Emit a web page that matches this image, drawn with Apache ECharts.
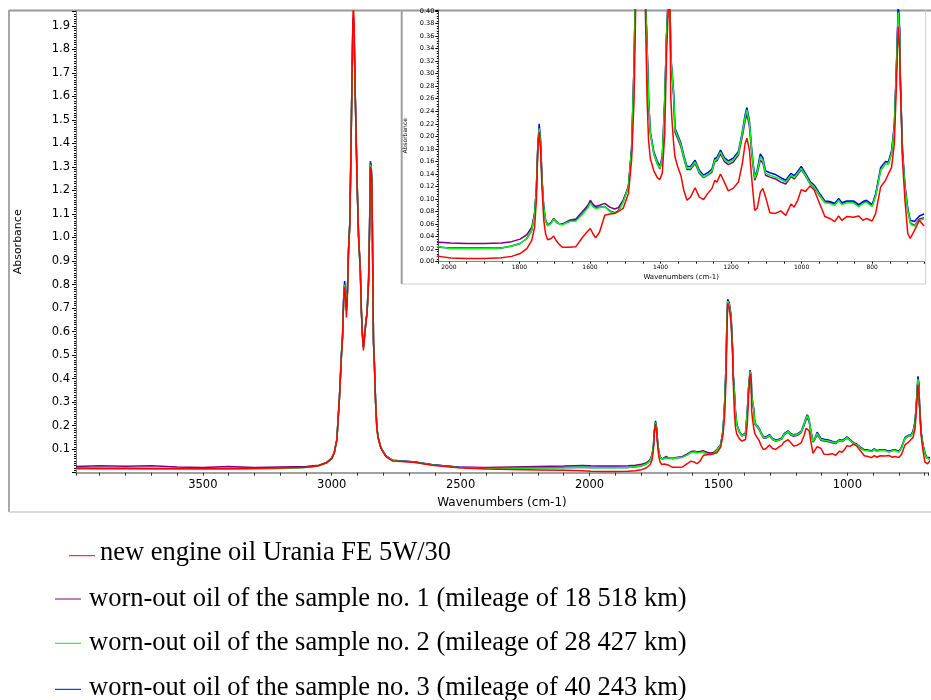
<!DOCTYPE html>
<html><head><meta charset="utf-8">
<script src="https://cdn.jsdelivr.net/npm/echarts@6/dist/echarts.min.js"></script>
<style>html,body{margin:0;padding:0;background:#fff}#c{width:931px;height:700px}</style>
</head><body><div id="c"></div>
<script>
// ---------- DATA ----------
const wavenumbers = [
3992,3900,3800,3700,3600,3500,3400,3300,3200,3100,
3050,3020,3000,2990,2980,2970,2962,2958,2954,2950,
2946,2943,2939,2935,2930,2926,2922,2918,2916,2913,
2909,2904,2900,2896,2893,2889,2885,2881,2877,2871,
2867,2863,2857,2853,2850,2847,2844,2841,2838,2834,
2830,2825,2820,2809,2790,2765,2730,2700,2676,2610,
2507,2400,2300,2200,2100,
2027,1995,1950,1899,1851,1822,1798,1779,1765,1757,
1752,1748,1744,1740,1736,1731,1726,1720,1717,1710,
1703,1695,1688,1678,1659,1640,1621,1606,1599,1592,
1584,1573,1558,1544,1530,1520,1506,1491,1482,1475,
1470,1468,1464,1458,1451,1445,1443,1438,1434,1429,
1419,1409,1402,1395,1388,1383,1377,1373,1371,1368,
1363,1359,1351,1342,1334,1325,1315,1302,1290,1278,
1266,1254,1246,1240,1230,1219,1208,1194,1179,1168,
1160,1155,1148,1141,1133,1126,1117,1110,1102,1090,
1074,1059,1045,1030,1021,1011,1001,989,976,964,
949,934,920,906,895,886,872,853,838,826,
816,800,790,776,762,754,745,737,731,726,
722,720,714,707,699,692,689,680,666,653];

const newOil = [
0.020,0.019,0.019,0.018,0.018,0.018,0.018,0.019,0.020,0.023,
0.030,0.042,0.060,0.085,0.140,0.320,0.506,0.577,0.726,0.790,
0.740,0.660,0.760,0.938,1.051,1.320,1.617,1.928,2.000,1.900,
1.617,1.355,1.164,1.008,0.938,0.853,0.683,0.584,0.520,0.598,
0.641,0.676,0.811,1.051,1.300,1.290,1.221,0.881,0.556,0.443,
0.301,0.188,0.146,0.103,0.068,0.050,0.048,0.046,0.043,0.032,
0.021,0.016,0.014,0.012,0.010,
0.0085,0.006,0.005,0.005,0.0064,0.0085,0.013,0.021,0.034,0.055,
0.098,0.178,0.207,0.178,0.119,0.066,0.045,0.035,0.034,0.037,
0.041,0.033,0.028,0.023,0.023,0.024,0.039,0.049,0.053,0.045,
0.038,0.047,0.074,0.076,0.077,0.080,0.085,0.109,0.162,0.258,
0.42,0.55,0.72,0.70,0.64,0.50,0.40,0.258,0.194,0.165,
0.145,0.134,0.131,0.141,0.205,0.33,0.42,0.40,0.263,0.23,
0.19,0.167,0.151,0.137,0.114,0.098,0.103,0.118,0.103,0.099,
0.109,0.117,0.130,0.127,0.140,0.127,0.113,0.117,0.127,0.157,
0.189,0.197,0.178,0.130,0.082,0.085,0.111,0.117,0.103,0.078,
0.077,0.081,0.074,0.092,0.087,0.098,0.115,0.112,0.121,0.114,
0.093,0.072,0.069,0.064,0.073,0.066,0.072,0.071,0.073,0.066,
0.069,0.065,0.077,0.119,0.130,0.140,0.150,0.189,0.285,0.375,
0.34,0.285,0.162,0.098,0.045,0.037,0.038,0.050,0.066,0.057];

const sample1 = [
0.026,0.030,0.027,0.030,0.024,0.022,0.026,0.022,0.024,0.026,
0.032,0.044,0.062,0.087,0.142,0.325,0.510,0.580,0.730,0.800,
0.760,0.690,0.770,0.940,1.060,1.325,1.630,1.900,1.925,1.850,
1.620,1.360,1.170,1.010,0.945,0.860,0.690,0.590,0.535,0.600,
0.650,0.680,0.820,1.060,1.325,1.310,1.230,0.890,0.560,0.450,
0.305,0.192,0.150,0.106,0.071,0.053,0.050,0.048,0.045,0.034,
0.024,0.022,0.024,0.026,0.028,
0.031,0.030,0.029,0.029,0.030,0.032,0.036,0.043,0.055,0.078,
0.115,0.180,0.212,0.188,0.130,0.085,0.066,0.058,0.058,0.063,
0.069,0.064,0.061,0.060,0.066,0.068,0.080,0.090,0.098,0.092,
0.088,0.090,0.093,0.087,0.084,0.086,0.098,0.120,0.180,0.315,
0.48,0.60,0.737,0.72,0.67,0.53,0.43,0.345,0.262,0.205,
0.172,0.156,0.148,0.163,0.255,0.36,0.436,0.41,0.33,0.30,
0.265,0.207,0.196,0.183,0.165,0.147,0.147,0.157,0.141,0.134,
0.138,0.143,0.160,0.161,0.172,0.160,0.155,0.159,0.170,0.200,
0.225,0.236,0.216,0.170,0.130,0.140,0.162,0.158,0.138,0.135,
0.132,0.127,0.124,0.136,0.132,0.139,0.147,0.137,0.124,0.118,
0.105,0.095,0.095,0.091,0.099,0.092,0.095,0.095,0.089,0.094,
0.096,0.089,0.106,0.146,0.157,0.156,0.173,0.215,0.311,0.405,
0.37,0.29,0.175,0.12,0.082,0.062,0.059,0.058,0.068,0.070];

const sample2 = [
0.016,0.016,0.016,0.016,0.016,0.016,0.016,0.017,0.018,0.022,
0.029,0.041,0.060,0.085,0.140,0.320,0.505,0.576,0.730,0.800,
0.760,0.690,0.770,0.940,1.055,1.320,1.620,1.890,1.915,1.840,
1.610,1.355,1.165,1.005,0.940,0.855,0.685,0.585,0.530,0.600,
0.645,0.678,0.815,1.055,1.310,1.300,1.225,0.885,0.560,0.445,
0.303,0.190,0.148,0.105,0.070,0.052,0.049,0.047,0.044,0.033,
0.022,0.018,0.019,0.020,0.021,
0.024,0.021,0.021,0.021,0.022,0.025,0.029,0.037,0.050,0.075,
0.115,0.180,0.213,0.190,0.130,0.085,0.066,0.057,0.056,0.061,
0.068,0.063,0.061,0.059,0.064,0.065,0.076,0.086,0.094,0.088,
0.085,0.086,0.088,0.080,0.077,0.080,0.095,0.119,0.178,0.311,
0.47,0.59,0.73,0.715,0.66,0.52,0.42,0.34,0.26,0.205,
0.173,0.157,0.149,0.165,0.258,0.36,0.43,0.41,0.33,0.306,
0.269,0.210,0.199,0.186,0.167,0.149,0.149,0.159,0.143,0.135,
0.139,0.145,0.162,0.163,0.175,0.163,0.158,0.162,0.173,0.205,
0.231,0.242,0.221,0.173,0.133,0.143,0.167,0.162,0.141,0.138,
0.135,0.131,0.127,0.138,0.134,0.141,0.149,0.138,0.125,0.119,
0.106,0.094,0.093,0.090,0.098,0.091,0.094,0.094,0.088,0.093,
0.095,0.088,0.105,0.146,0.157,0.156,0.173,0.215,0.311,0.398,
0.36,0.285,0.173,0.119,0.082,0.063,0.059,0.057,0.066,0.068];

const sample3 = [
0.018,0.018,0.018,0.018,0.017,0.017,0.017,0.018,0.019,0.023,
0.030,0.042,0.061,0.086,0.142,0.322,0.508,0.580,0.735,0.815,
0.770,0.700,0.780,0.945,1.060,1.325,1.635,1.910,1.935,1.860,
1.625,1.360,1.170,1.010,0.945,0.860,0.690,0.590,0.535,0.600,
0.650,0.680,0.820,1.060,1.315,1.300,1.230,0.890,0.560,0.450,
0.305,0.192,0.150,0.106,0.071,0.053,0.050,0.048,0.045,0.034,
0.023,0.019,0.020,0.021,0.022,
0.023,0.022,0.022,0.022,0.022,0.025,0.029,0.037,0.050,0.076,
0.116,0.182,0.220,0.195,0.133,0.087,0.067,0.058,0.057,0.062,
0.068,0.063,0.061,0.060,0.064,0.066,0.077,0.087,0.095,0.089,
0.086,0.087,0.088,0.081,0.078,0.081,0.096,0.120,0.180,0.313,
0.47,0.59,0.735,0.72,0.665,0.525,0.425,0.342,0.26,0.207,
0.176,0.160,0.152,0.168,0.26,0.36,0.433,0.41,0.33,0.308,
0.272,0.213,0.202,0.189,0.170,0.152,0.152,0.162,0.146,0.138,
0.142,0.148,0.165,0.166,0.178,0.166,0.161,0.165,0.176,0.208,
0.235,0.246,0.225,0.176,0.136,0.146,0.172,0.166,0.145,0.142,
0.139,0.134,0.130,0.141,0.137,0.144,0.152,0.141,0.128,0.122,
0.109,0.097,0.096,0.093,0.101,0.094,0.097,0.097,0.091,0.096,
0.098,0.091,0.108,0.150,0.160,0.159,0.177,0.220,0.316,0.41,
0.37,0.29,0.178,0.122,0.085,0.066,0.063,0.064,0.073,0.076];

const mainXLabels = [3500, 3000, 2500, 2000, 1500, 1000];
const mainYLabels = [0.1,0.2,0.3,0.4,0.5,0.6,0.7,0.8,0.9,1.0,1.1,1.2,1.3,1.4,1.5,1.6,1.7,1.8,1.9];
const insetXLabels = [2000, 1800, 1600, 1400, 1200, 1000, 800];
const insetYLabels = [0.00,0.02,0.04,0.06,0.08,0.10,0.12,0.14,0.16,0.18,0.20,0.22,0.24,0.26,0.28,0.30,0.32,0.34,0.36,0.38,0.40];

const legendLabels = [
  'new engine oil Urania FE 5W/30',
  'worn-out oil of the sample no. 1 (mileage of 18 518 km)',
  'worn-out oil of the sample no. 2 (mileage of 28 427 km)',
  'worn-out oil of the sample no. 3 (mileage of 40 243 km)'
];

// ---------- CHART ----------
const colors = { newOil: '#ff0000', s1: '#800080', s2: '#00ff00', s3: '#0000ff' };
function pairs(vals) { return wavenumbers.map((w, i) => [w, vals[i]]); }
function inList(list, v, tol) { return list.some(x => Math.abs(x - v) < tol); }

const drawOrder = [
  { name: legendLabels[1], vals: sample1, color: colors.s1 },
  { name: legendLabels[3], vals: sample3, color: colors.s3 },
  { name: legendLabels[2], vals: sample2, color: colors.s2 },
  { name: legendLabels[0], vals: newOil, color: colors.newOil }
];

const series = [];
drawOrder.forEach(d => {
  [0, 1].forEach(g => {
    series.push({
      type: 'line', name: d.name, xAxisIndex: g, yAxisIndex: g,
      data: pairs(d.vals), showSymbol: false, symbol: 'none',
      lineStyle: { color: d.color, width: 1.5 }, itemStyle: { color: d.color },
      clip: true, animation: false
    });
  });
});

const sansFont = 'DejaVu Sans';
const chart = echarts.init(document.getElementById('c'), null, { renderer: 'canvas' });

const legendY = [553, 599.5, 643.5, 688];
const dashY = [555.7, 599, 643.3, 689.3];
const dashX = [[69, 95], [55, 81], [55, 81], [55, 81]];
const textX = [100, 89, 89, 89];
const legendColors = [colors.newOil, colors.s1, colors.s2, colors.s3];

const graphics = [
  // main frame
  { type: 'line', shape: { x1: 9, y1: 10, x2: 9, y2: 512 }, style: { stroke: '#a8a8a8', lineWidth: 2 } },
  { type: 'line', shape: { x1: 9, y1: 512, x2: 931, y2: 512 }, style: { stroke: '#cfcfcf', lineWidth: 1.5 } },
  { type: 'line', shape: { x1: 9, y1: 10.5, x2: 931, y2: 10.5 }, style: { stroke: '#9a9a9a', lineWidth: 2 } },
  // inset frame
  { type: 'rect', shape: { x: 401.7, y: 10, width: 524, height: 274 }, style: { fill: '#fff', stroke: null }, z: -10 },
  { type: 'line', shape: { x1: 401.7, y1: 10, x2: 401.7, y2: 284 }, style: { stroke: '#a0a0a0', lineWidth: 2 } },
  { type: 'line', shape: { x1: 401.7, y1: 284, x2: 925.7, y2: 284 }, style: { stroke: '#cfcfcf', lineWidth: 1 } },
  { type: 'line', shape: { x1: 925.7, y1: 10, x2: 925.7, y2: 284 }, style: { stroke: '#cfcfcf', lineWidth: 1 } }
];
legendLabels.forEach((t, i) => {
  graphics.push({ type: 'line', shape: { x1: dashX[i][0], y1: dashY[i], x2: dashX[i][1], y2: dashY[i] }, style: { stroke: legendColors[i], lineWidth: 1 } });
  graphics.push({ type: 'text', x: textX[i], y: legendY[i], style: { text: t, fill: '#000', font: '26.5px "Liberation Serif"', textVerticalAlign: 'middle', verticalAlign: 'middle' } });
});

chart.setOption({
  animation: false,
  backgroundColor: '#fff',
  grid: [
    { left: 76, right: 0, top: 11, bottom: 227.3, containLabel: false },
    { left: 438.3, right: 7, top: 10, bottom: 438.3, containLabel: false }
  ],
  xAxis: [
    {
      type: 'value', gridIndex: 0, inverse: true, min: 687, max: 3992, splitNumber: 33,
      axisLine: { show: true, onZero: false, lineStyle: { color: '#a0a0a0', width: 2 } },
      axisTick: { show: true, length: 3, lineStyle: { color: '#333' } },
      splitLine: { show: false },
      axisLabel: {
        margin: 6, color: '#000', fontFamily: sansFont, fontSize: 11.5,
        showMinLabel: true, showMaxLabel: true,
        formatter: v => inList(mainXLabels, v, 0.01) ? String(Math.round(v)) : ''
      },
      name: 'Wavenumbers (cm-1)', nameLocation: 'middle', nameGap: 24,
      nameTextStyle: { color: '#000', fontFamily: sansFont, fontSize: 12 }
    },
    {
      type: 'value', gridIndex: 1, inverse: true, min: 653, max: 2030, splitNumber: 28,
      axisLine: { show: true, onZero: false, lineStyle: { color: '#888', width: 1 } },
      axisTick: { show: true, length: 2, lineStyle: { color: '#000' } },
      splitLine: { show: false },
      axisLabel: {
        margin: 3, color: '#000', fontFamily: sansFont, fontSize: 6,
        formatter: v => inList(insetXLabels, v, 0.01) ? String(Math.round(v)) : ''
      },
      name: 'Wavenumbers (cm-1)', nameLocation: 'middle', nameGap: 12,
      nameTextStyle: { color: '#000', fontFamily: sansFont, fontSize: 7 }
    }
  ],
  yAxis: [
    {
      type: 'value', gridIndex: 0, min: 0, max: 1.963, interval: 0.1,
      axisLine: { show: true, onZero: false, lineStyle: { color: '#777', width: 1 } },
      axisTick: { show: true, length: 4, lineStyle: { color: '#000' } },
      minorTick: { show: true, splitNumber: 10, length: 2, lineStyle: { color: '#000' } },
      splitLine: { show: false }, minorSplitLine: { show: false },
      axisLabel: {
        margin: 6, color: '#000', fontFamily: sansFont, fontSize: 11.5,
        formatter: v => inList(mainYLabels, v, 1e-6) ? v.toFixed(1) : ''
      },
      name: 'Absorbance', nameLocation: 'middle', nameGap: 52, nameRotate: 90,
      nameTextStyle: { color: '#000', fontFamily: sansFont, fontSize: 11 }
    },
    {
      type: 'value', gridIndex: 1, min: 0, max: 0.4016, interval: 0.02,
      axisLine: { show: true, onZero: false, lineStyle: { color: '#555', width: 1 } },
      axisTick: { show: true, length: 3, lineStyle: { color: '#000' } },
      minorTick: { show: true, splitNumber: 5, length: 1.5, lineStyle: { color: '#000' } },
      splitLine: { show: false }, minorSplitLine: { show: false },
      axisLabel: {
        margin: 4, color: '#000', fontFamily: sansFont, fontSize: 6.5,
        formatter: v => inList(insetYLabels, v, 1e-6) ? v.toFixed(2) : ''
      },
      name: 'Absorbance', nameLocation: 'middle', nameGap: 27, nameRotate: 90,
      nameTextStyle: { color: '#000', fontFamily: sansFont, fontSize: 6 }
    }
  ],
  graphic: graphics,
  series: series
});
</script>
</body></html>
